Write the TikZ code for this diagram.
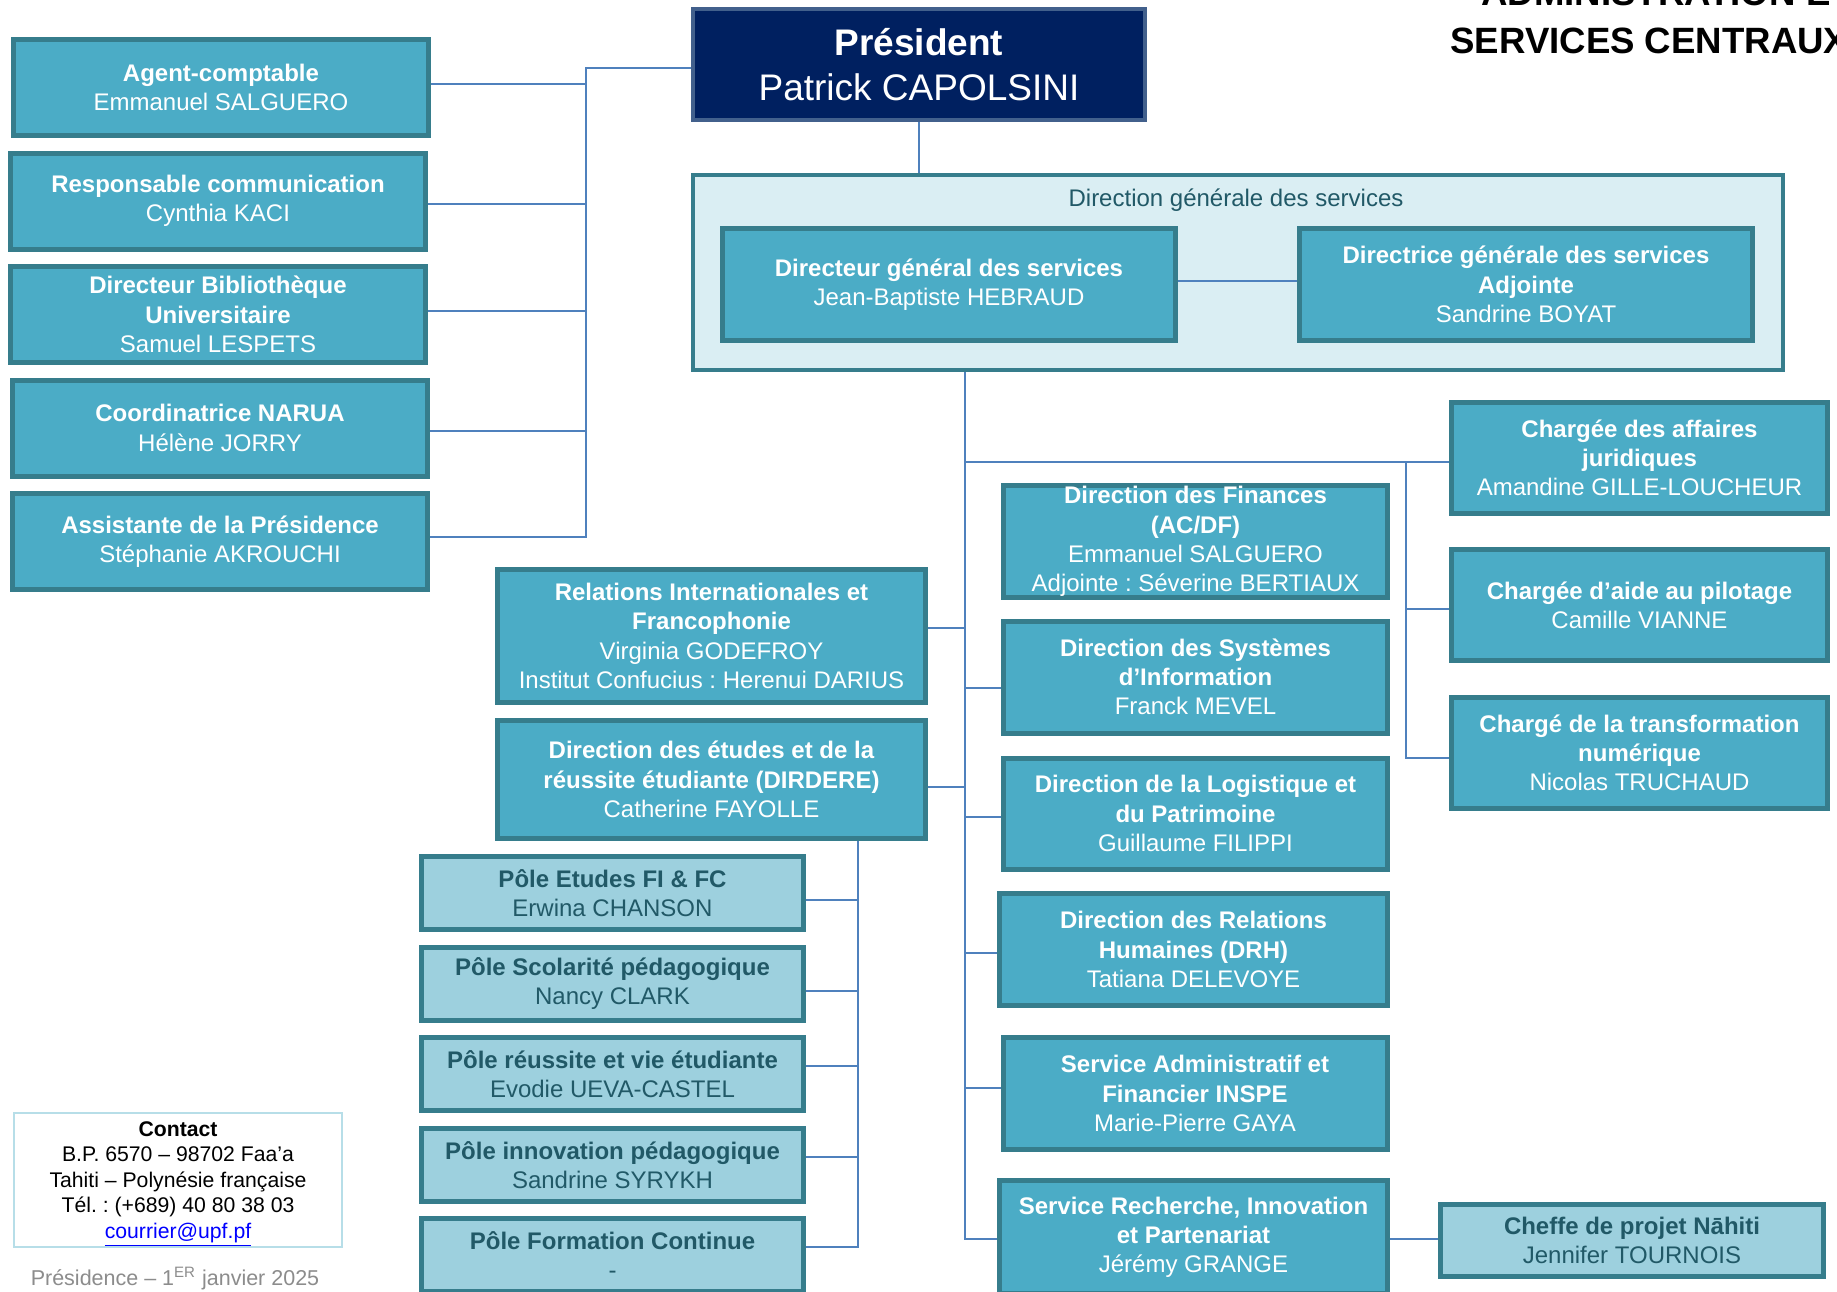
\documentclass[tikz,border=0pt]{standalone}
\usepackage{fontspec}
\setmainfont{Liberation Sans}
\frenchspacing
\definecolor{unitfill}{RGB}{75,172,198}
\definecolor{unitline}{RGB}{54,125,140}
\definecolor{polefill}{RGB}{157,208,222}
\definecolor{poletext}{RGB}{33,89,103}
\definecolor{dgsfill}{RGB}{218,238,243}
\definecolor{presfill}{RGB}{0,32,96}
\definecolor{presline}{RGB}{66,96,140}
\definecolor{wirecol}{RGB}{79,129,189}
\definecolor{contactline}{RGB}{183,222,232}
\definecolor{footgray}{RGB}{140,140,140}
\tikzset{
  unit/.style={draw=unitline, fill=unitfill, line width=2.5pt, text=white, align=center, inner sep=0pt, font=\fontsize{12}{14.6}\selectfont},
  pole/.style={unit, fill=polefill, text=poletext},
  wh/.style 2 args={minimum width=#1*0.5pt, minimum height=#2*0.5pt},
  wire/.style={draw=wirecol, line width=1pt},
}
\begin{document}
\begin{tikzpicture}[x=0.5pt,y=-0.5pt]
%\draw[help lines,step=100] (0,0) grid (1837,1291);
\path[use as bounding box, clip] (0,0) rectangle (1837,1291);
\fill[white] (0,0) rectangle (1837,1291);

\node[anchor=base west, inner sep=0pt, font=\bfseries\fontsize{18.3}{22}\selectfont] (headA) at (1481,5) {ADMINISTRATION ET};
\node[anchor=base west, inner sep=0pt, font=\bfseries\fontsize{18.3}{22}\selectfont] (headB) at (1450,53) {SERVICES CENTRAUX};

\node[unit, fill=presfill, draw=presline, line width=2pt, wh={452}{111}, font=\fontsize{18.5}{22.3}\selectfont] (president) at (919,64.5) {\textbf{Président}\\Patrick CAPOLSINI};

% cabinet
\node[unit, wh={415}{96}] (agent) at (221,87.5) {\textbf{Agent-comptable}\\Emmanuel SALGUERO};
\node[unit, wh={415}{96}] (comm) at (218,201) {\textbf{Responsable communication}\\Cynthia KACI};
\node[unit, wh={415}{96}] (biblio) at (218,314.5) {\textbf{Directeur Bibliothèque}\\\textbf{Universitaire}\\Samuel LESPETS};
\node[unit, wh={415}{96}] (narua) at (220,428) {\textbf{Coordinatrice NARUA}\\Hélène JORRY};
\node[unit, wh={415}{96}] (assist) at (220,541.5) {\textbf{Assistante de la Présidence}\\Stéphanie AKROUCHI};

% direction generale
\node[unit, fill=dgsfill, line width=2pt, wh={1090}{195}] (dgs) at (1238,272.5) {};
\node[text=poletext, font=\fontsize{12}{14.6}\selectfont] (dgslabel) at (1236,200) {Direction générale des services};
\node[unit, wh={453}{112}] (dg) at (949,284.5) {\textbf{Directeur général des services}\\Jean-Baptiste HEBRAUD};
\node[unit, wh={453}{112}] (dga) at (1526,284.5) {\textbf{Directrice générale des services}\\\textbf{Adjointe}\\Sandrine BOYAT};

\node[unit, wh={376}{111}] (juridique) at (1639.5,458) {\textbf{Chargée des affaires}\\\textbf{juridiques}\\Amandine GILLE-LOUCHEUR};
\node[unit, wh={376}{111}] (pilotage) at (1639.5,605) {\textbf{Chargée d’aide au pilotage}\\Camille VIANNE};
\node[unit, wh={376}{111}] (numerique) at (1639.5,753) {\textbf{Chargé de la transformation}\\\textbf{numérique}\\Nicolas TRUCHAUD};

\node[unit, wh={384}{112}] (finances) at (1195.5,541.5) {\textbf{Direction des Finances}\\\textbf{(AC/DF)}\\Emmanuel SALGUERO\\Adjointe : Séverine BERTIAUX};
\node[unit, wh={384}{112}] (dsi) at (1195.5,677) {\textbf{Direction des Systèmes}\\\textbf{d’Information}\\Franck MEVEL};
\node[unit, wh={384}{111}] (logistique) at (1195.5,813.5) {\textbf{Direction de la Logistique et}\\\textbf{du Patrimoine}\\Guillaume FILIPPI};
\node[unit, wh={388}{112}] (drh) at (1193.5,949.5) {\textbf{Direction des Relations}\\\textbf{Humaines (DRH)}\\Tatiana DELEVOYE};
\node[unit, wh={384}{112}] (inspe) at (1195,1093.5) {\textbf{Service Administratif et}\\\textbf{Financier INSPE}\\Marie-Pierre GAYA};
\node[unit, wh={388}{113}] (recherche) at (1193.5,1237) {\textbf{Service Recherche, Innovation}\\\textbf{et Partenariat}\\Jérémy GRANGE};
\node[pole, wh={383}{72}] (nahiti) at (1632,1240.5) {\textbf{Cheffe de projet Nāhiti}\\Jennifer TOURNOIS};

\node[unit, wh={428}{133}] (ri) at (711.5,636) {\textbf{Relations Internationales et}\\\textbf{Francophonie}\\Virginia GODEFROY\\Institut Confucius : Herenui DARIUS};
\node[unit, wh={428}{118}] (dirdere) at (711.5,779.5) {\textbf{Direction des études et de la}\\\textbf{réussite étudiante (DIRDERE)}\\Catherine FAYOLLE};

% poles DIRDERE
\node[pole, wh={382}{73}] (etudes) at (612.5,893) {\textbf{Pôle Etudes FI \& FC}\\Erwina CHANSON};
\node[pole, wh={382}{73}] (scolarite) at (612.5,983.5) {\textbf{Pôle Scolarité pédagogique}\\Nancy CLARK};
\node[pole, wh={382}{73}] (reussite) at (612.5,1074) {\textbf{Pôle réussite et vie étudiante}\\Evodie UEVA-CASTEL};
\node[pole, wh={382}{73}] (innovation) at (612.5,1165) {\textbf{Pôle innovation pédagogique}\\Sandrine SYRYKH};
\node[pole, wh={382}{73}] (formation) at (612.5,1255) {\textbf{Pôle Formation Continue}\\-};

\node[draw=contactline, line width=1pt, fill=white, wh={328}{134}] (contact) at (178,1180) {};
\node[align=center, inner sep=0pt, font=\fontsize{10.6}{12.8}\selectfont] (contacttext) at (178,1184) {\textbf{Contact}\\B.P. 6570 – 98702 Faa’a\\Tahiti – Polynésie française\\Tél. : (+689) 40 80 38 03\\\textcolor{blue}{\underline{courrier@upf.pf}}};
\node[anchor=base, text=footgray, inner sep=0pt, font=\fontsize{10.75}{13}\selectfont] (footer) at (175,1285) {Présidence – 1\textsuperscript{ER} janvier 2025};

\coordinate (lbus) at (586,68);
\coordinate (mbus) at (965,0);
\coordinate (rbus) at (1406,0);
\coordinate (dbus) at (858,0);

\draw[wire] (president.west |- lbus) -- (lbus) |- ([yshift=2.25pt]assist.east);
\draw[wire] ([yshift=1.9pt]agent.east) coordinate (p) -- (lbus |- p);
\draw[wire] ([yshift=-1.5pt]comm.east) coordinate (p) -- (lbus |- p);
\draw[wire] ([yshift=1.75pt]biblio.east) coordinate (p) -- (lbus |- p);
\draw[wire] ([yshift=-1.5pt]narua.east) coordinate (p) -- (lbus |- p);

\draw[wire] (president.south) -- (president.south |- dgs.north);
\draw[wire] ([yshift=1.75pt]dg.east) coordinate (p) -- (dga.west |- p);
\draw[wire] (mbus |- dgs.south) |- ([yshift=-1pt]recherche.west);
\draw[wire] ([yshift=-2pt]juridique.west) coordinate (p) -- (mbus |- p);
\draw[wire] (rbus |- p) |- ([yshift=-2.5pt]numerique.west);
\draw[wire] ([yshift=-2pt]pilotage.west) coordinate (p) -- (rbus |- p);
\draw[wire] ([yshift=-5.5pt]dsi.west) coordinate (p) -- (mbus |- p);
\draw[wire] ([yshift=-1.75pt]logistique.west) coordinate (p) -- (mbus |- p);
\draw[wire] ([yshift=-1.75pt]drh.west) coordinate (p) -- (mbus |- p);
\draw[wire] ([yshift=2.75pt]inspe.west) coordinate (p) -- (mbus |- p);
\draw[wire] ([yshift=4pt]ri.east) coordinate (p) -- (mbus |- p);
\draw[wire] ([yshift=-3.75pt]dirdere.east) coordinate (p) -- (mbus |- p);
\draw[wire] ([yshift=-1pt]recherche.east) coordinate (p) -- (nahiti.west |- p);

\draw[wire] (dbus |- dirdere.south) |- ([yshift=4pt]formation.east);
\draw[wire] ([yshift=-3.5pt]etudes.east) coordinate (p) -- (dbus |- p);
\draw[wire] ([yshift=-3.75pt]scolarite.east) coordinate (p) -- (dbus |- p);
\draw[wire] ([yshift=4pt]reussite.east) coordinate (p) -- (dbus |- p);
\draw[wire] ([yshift=4pt]innovation.east) coordinate (p) -- (dbus |- p);
\end{tikzpicture}
\end{document}
